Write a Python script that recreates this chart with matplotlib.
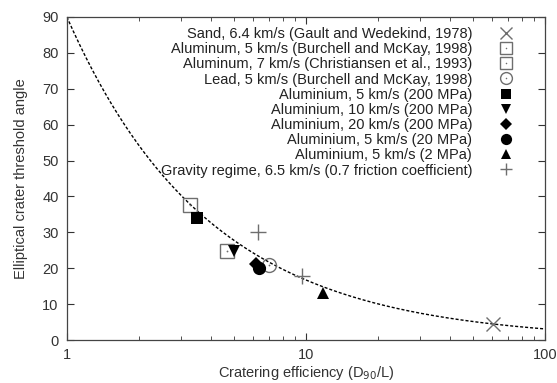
import numpy as np
import matplotlib
matplotlib.use("Agg")
import matplotlib.pyplot as plt
from matplotlib.ticker import LogLocator, NullFormatter, FixedLocator

plt.rcParams['font.family'] = ['Liberation Sans', 'DejaVu Sans']

# Data: (cratering efficiency, threshold angle)
labels = [
    "Sand, 6.4 km/s (Gault and Wedekind, 1978)",
    "Aluminum, 5 km/s (Burchell and McKay, 1998)",
    "Aluminum, 7 km/s (Christiansen et al., 1993)",
    "Lead, 5 km/s (Burchell and McKay, 1998)",
    "Aluminium, 5 km/s (200 MPa)",
    "Aluminium, 10 km/s (200 MPa)",
    "Aluminium, 20 km/s (200 MPa)",
    "Aluminium, 5 km/s (20 MPa)",
    "Aluminium, 5 km/s (2 MPa)",
    "Gravity regime, 6.5 km/s (0.7 friction coefficient)",
]
efficiency = [[60.5], [3.29], [4.69], [7.0], [3.51], [5.01], [6.18], [6.38], [11.75], [6.28, 9.6]]
angle = [[4.6], [37.6], [24.9], [20.9], [34.1], [24.7], [21.1], [20.0], [13.2], [30.0, 17.9]]

# Power-law model curve: angle = 90 * efficiency^(-0.73)
model_coef = 90.0
model_exp = -0.73

gray = '#6e6e6e'
styles = [
    dict(marker='x', color=gray, ms=10, mew=1.0, mfc='none'),
    dict(marker='s', color=gray, ms=10, mew=1.0, mfc='none'),
    dict(marker='s', color=gray, ms=10, mew=1.0, mfc='none'),
    dict(marker='o', color=gray, ms=10, mew=1.0, mfc='none'),
    dict(marker='s', color='black', ms=9, mew=0),
    dict(marker='v', color='black', ms=9, mew=0),
    dict(marker='D', color='black', ms=7.5, mew=0),
    dict(marker='o', color='black', ms=9.5, mew=0),
    dict(marker='^', color='black', ms=9, mew=0),
    dict(marker='+', color=gray, ms=11, mew=1.0),
]
# open symbols drawn with a small centre dot
dotted = [1, 2, 3]

fig = plt.figure(figsize=(5.57, 3.83), dpi=100)
ax = fig.add_axes([0.120, 0.112, 0.858, 0.844])

xs = np.logspace(0, 2, 300)
ax.plot(xs, model_coef * xs ** model_exp, color='black', lw=1.0,
        ls=(0, (2.2, 1.4)), zorder=1)

handles = []
for i, (x, y, st) in enumerate(zip(efficiency, angle, styles)):
    h, = ax.plot(x, y, ls='none', zorder=3, **st)
    if i in dotted:
        d, = ax.plot(x, y, ls='none', marker='o', ms=1.3, mew=0,
                     color=gray, zorder=3)
        handles.append((h, d))
    else:
        handles.append(h)

ax.set_xscale('log')
ax.set_xlim(1, 100)
ax.set_ylim(0, 90)
ax.xaxis.set_major_locator(FixedLocator([1, 10, 100]))
ax.set_xticklabels(['1', '10', '100'])
ax.xaxis.set_minor_locator(LogLocator(base=10, subs=np.arange(2, 10)))
ax.xaxis.set_minor_formatter(NullFormatter())
ax.set_yticks(np.arange(0, 91, 10))

ax.tick_params(which='both', direction='in', top=True, right=True,
               labelsize=10.5, colors='#333333', pad=6)
ax.tick_params(which='major', length=5)
ax.tick_params(which='minor', length=3)
for sp in ax.spines.values():
    sp.set_color('#444444')
    sp.set_linewidth(0.9)

ax.set_xlabel('Cratering efficiency (D$_{90}$/L)', fontsize=10.5, color='#333333', labelpad=1)
ax.set_ylabel('Elliptical crater threshold angle', fontsize=10.5, color='#333333', labelpad=10)

leg = ax.legend(handles, labels, loc='upper right', frameon=False, markerfirst=False,
                fontsize=10.5, handlelength=1.0, handletextpad=1.8,
                labelspacing=0.08, borderaxespad=0.3, markerscale=0.85,
                bbox_to_anchor=(0.955, 1.0))
for t in leg.get_texts():
    t.set_color('#222222')

fig.savefig('out.png', dpi=100)
